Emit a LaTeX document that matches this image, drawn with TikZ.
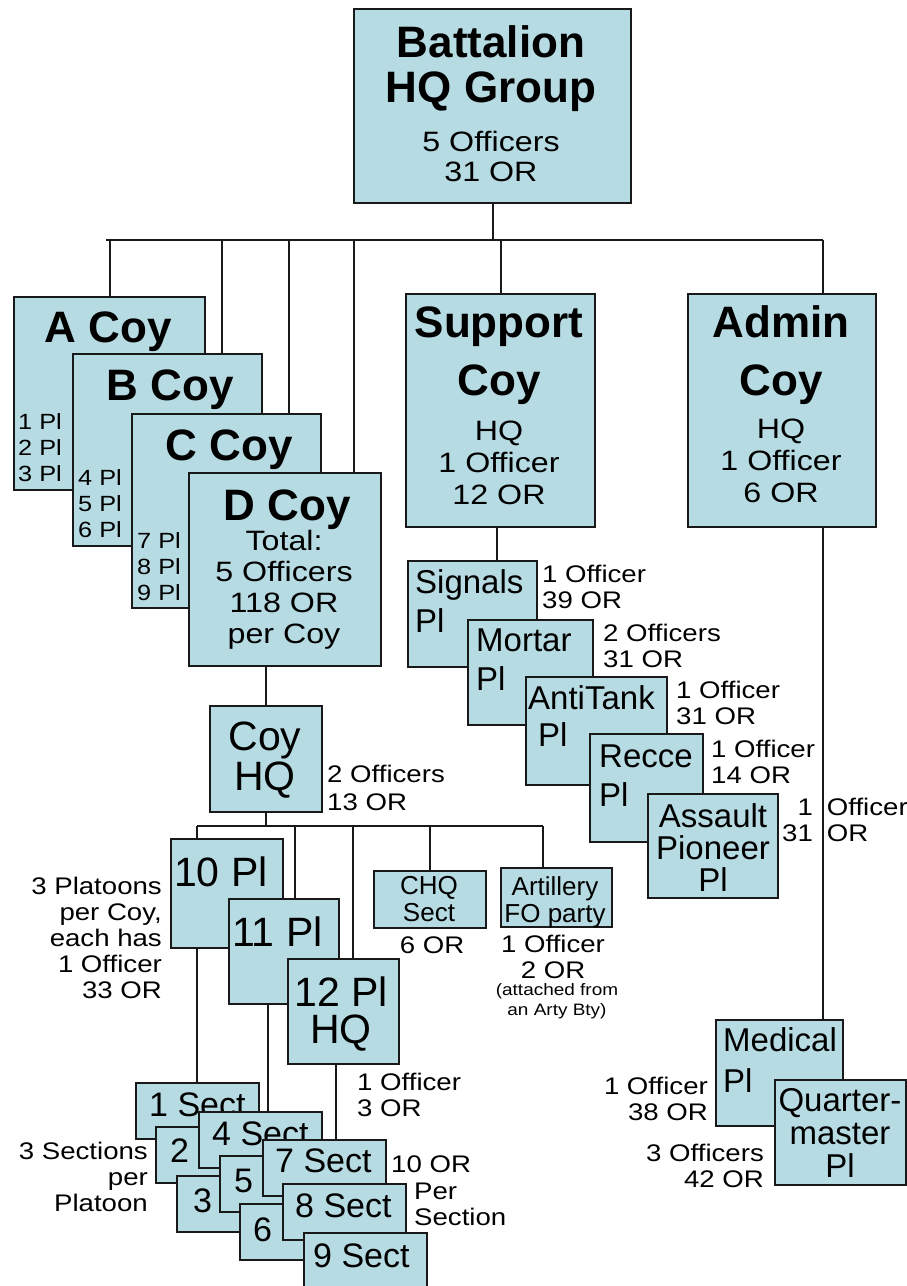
\documentclass[tikz,border=0pt]{standalone}
\usepackage{fontspec}
\setmainfont{Liberation Sans}
\newfontfamily\txfont[FakeStretch=1.15]{Liberation Sans}
\usetikzlibrary{calc,backgrounds}
\definecolor{coyblue}{RGB}{182,219,226}
\tikzset{
  unit/.style={draw=black!90, line width=2pt, fill=coyblue, inner sep=0pt, anchor=north west},
  link/.style={line width=2pt, draw=black!90},
  hd/.style={font=\bfseries\fontsize{44}{45}\selectfont, inner sep=0pt, align=center, anchor=north},
  md/.style={font=\fontsize{33}{39}\selectfont, inner sep=0pt, align=left, anchor=north west},
  big/.style={font=\fontsize{41}{40}\selectfont, inner sep=0pt},
  info/.style={font=\txfont\fontsize{28}{32}\selectfont, inner sep=0pt, align=center, anchor=north},
  lbl/.style={font=\txfont\fontsize{24}{26}\selectfont, inner sep=0pt, align=left, anchor=north west},
  pls/.style={font=\txfont\fontsize{22}{26}\selectfont, inner sep=0pt, align=left, anchor=north west},
  secttxt/.style={font=\fontsize{34}{36}\selectfont, inner sep=0pt, anchor=north west},
  sect/.style={unit, minimum width=123pt, minimum height=56pt}
}
\begin{document}
\begin{tikzpicture}[x=1pt, y=-1pt]
  \path[use as bounding box] (0,0) rectangle (907,1286);

  % Coordinates
  \coordinate (busL) at (106,240);
  \coordinate (busR) at (823,240);
  \coordinate (bDrop) at (222,240);
  \coordinate (cDrop) at (289,240);
  \coordinate (dDrop) at (354,240);
  \coordinate (sigDrop) at (497,540);
  \coordinate (hqBus) at (197,826);
  \coordinate (hqBusR) at (543,826);
  \coordinate (p11Drop) at (295,826);
  \coordinate (p12Drop) at (353,826);
  \coordinate (p11Down) at (268,1010);
  \coordinate (p12Down) at (336,1070);

  % Battalion HQ
  \node[unit, minimum width=277pt, minimum height=194pt] (bn) at (353,8) {};
  \node[hd] (bnName) at (491,25) {Battalion\\HQ Group};
  \node[info, font=\txfont\fontsize{28}{30}\selectfont] (bnStr) at (491,131) {5 Officers\\31 OR};

  % Rifle companies
  \node[unit, minimum width=191pt, minimum height=193pt] (acoy) at (13,296) {};
  \node[hd] (acoyName) at (108,312) {A Coy};
  \node[pls] (acoyPl) at (18,413) {1 Pl\\2 Pl\\3 Pl};
  \node[unit, minimum width=189pt, minimum height=192pt] (bcoy) at (72,353) {};
  \node[hd] (bcoyName) at (170,370) {B Coy};
  \node[pls] (bcoyPl) at (78,469) {4 Pl\\5 Pl\\6 Pl};
  \node[unit, minimum width=189pt, minimum height=194pt] (ccoy) at (131,413) {};
  \node[hd] (ccoyName) at (229,430) {C Coy};
  \node[pls] (ccoyPl) at (137,532) {7 Pl\\8 Pl\\9 Pl};
  \node[unit, minimum width=192pt, minimum height=193pt] (dcoy) at (188,472) {};
  \node[hd] (dcoyName) at (287,490) {D Coy};
  \node[info, font=\txfont\fontsize{28}{31}\selectfont] (dcoyStr) at (284,530) {Total:\\5 Officers\\118 OR\\per Coy};

  % Support and Admin companies
  \node[unit, minimum width=189pt, minimum height=233pt] (sup) at (405,293) {};
  \node[hd, font=\bfseries\fontsize{44}{58}\selectfont] (supName) at (499,307) {Support\\Coy};
  \node[info] (supStr) at (499,421) {HQ\\1 Officer\\12 OR};
  \node[unit, minimum width=188pt, minimum height=233pt] (adm) at (687,293) {};
  \node[hd, font=\bfseries\fontsize{44}{58}\selectfont] (admName) at (781,305) {Admin\\Coy};
  \node[info] (admStr) at (781,419) {HQ\\1 Officer\\6 OR};

  % Support platoons
  \node[unit, minimum width=129pt, minimum height=106pt] (sig) at (407,560) {};
  \node[md] (sigName) at (415,569) {Signals\\Pl};
  \node[lbl] (sigStr) at (542,565) {1 Officer\\39 OR};
  \node[unit, minimum width=125pt, minimum height=105pt] (mor) at (467,619) {};
  \node[md] (morName) at (476,629) {Mortar\\Pl};
  \node[lbl] (morStr) at (603,624) {2 Officers\\31 OR};
  \node[unit, minimum width=141pt, minimum height=108pt] (atk) at (525,676) {};
  \node[md, font=\fontsize{33}{37}\selectfont] (atkName) at (528,685) {AntiTank\\\hspace*{10pt}Pl};
  \node[lbl] (atkStr) at (676,681) {1 Officer\\31 OR};
  \node[unit, minimum width=113pt, minimum height=108pt] (rec) at (589,733) {};
  \node[md] (recName) at (599,745) {Recce\\Pl};
  \node[lbl] (recStr) at (711,740) {1 Officer\\14 OR};
  \node[unit, minimum width=130pt, minimum height=104pt] (apn) at (647,793) {};
  \node[md, align=center, anchor=north, font=\fontsize{33}{32}\selectfont] (apnName) at (713,803) {Assault\\Pioneer\\Pl};
  \node[font=\txfont\fontsize{24}{26}\selectfont, inner sep=0pt, anchor=north west] (apnStr) at (782,797)
    {\begin{tabular}{@{}r@{\hspace{14pt}}l@{}}1&Officer\\31&OR\end{tabular}};

  % Company HQ
  \node[unit, minimum width=112pt, minimum height=106pt] (hq) at (209,705) {};
  \node[big, align=center, anchor=north] (hqName) at (265,722) {Coy\\HQ};
  \node[lbl, font=\txfont\fontsize{24}{28}\selectfont] (hqStr) at (327,765) {2 Officers\\13 OR};

  % Platoons
  \node[unit, minimum width=112pt, minimum height=109pt] (pl10) at (170,838) {};
  \node[big, anchor=north west] (pl10Name) at (174,857) {10 Pl};
  \node[lbl, align=right, anchor=north east] (plStr) at (162,877) {3 Platoons\\per Coy,\\each has\\1 Officer\\33 OR};
  \node[unit, minimum width=110pt, minimum height=105pt] (pl11) at (228,898) {};
  \node[big, anchor=north west] (pl11Name) at (232,917) {11 Pl};
  \node[unit, minimum width=111pt, minimum height=105pt] (pl12) at (287,958) {};
  \node[big, align=center, anchor=north, font=\fontsize{41}{37}\selectfont] (pl12Name) at (341,977) {12 Pl\\HQ};
  \node[lbl] (pl12Str) at (357,1073) {1 Officer\\3 OR};

  % Coy HQ elements
  \node[unit, minimum width=112pt, minimum height=57pt] (chq) at (373,870) {};
  \node[info, font=\fontsize{26}{27}\selectfont] (chqName) at (429,876) {CHQ\\Sect};
  \node[lbl, align=center, anchor=north] (chqStr) at (432,937) {6 OR};
  \node[unit, minimum width=111pt, minimum height=59pt] (arty) at (500,867) {};
  \node[info, font=\fontsize{26}{27}\selectfont] (artyName) at (555,876) {Artillery\\FO party};
  \node[lbl, align=center, anchor=north] (artyStr) at (553,935) {1 Officer\\2 OR};
  \node[info, font=\txfont\fontsize{16.5}{20}\selectfont] (artyNote) at (557,983) {(attached from\\an Arty Bty)};

  % Sections
  \node[sect] (s1) at (135,1082) {};
  \node[secttxt] (s1t) at ($(s1.north west)+(14,11)$) {1 Sect};
  \node[sect] (s2) at (155,1126) {};
  \node[secttxt] (s2t) at ($(s2.north west)+(15,13)$) {2};
  \node[sect] (s3) at (176,1175) {};
  \node[secttxt] (s3t) at ($(s3.north west)+(17,14)$) {3};
  \node[sect] (s4) at (198,1111) {};
  \node[secttxt] (s4t) at ($(s4.north west)+(14,11)$) {4 Sect};
  \node[sect] (s5) at (219,1155) {};
  \node[secttxt] (s5t) at ($(s5.north west)+(15,14)$) {5};
  \node[sect] (s6) at (239,1203) {};
  \node[secttxt] (s6t) at ($(s6.north west)+(14,15)$) {6};
  \node[sect] (s7) at (262,1139) {};
  \node[secttxt] (s7t) at ($(s7.north west)+(13,10)$) {7 Sect};
  \node[sect] (s8) at (282,1183) {};
  \node[secttxt] (s8t) at ($(s8.north west)+(13,11)$) {8 Sect};
  \node[sect] (s9) at (303,1232) {};
  \node[secttxt] (s9t) at ($(s9.north west)+(10,12)$) {9 Sect};
  \node[lbl, align=right, anchor=north east] (sectStr) at (148,1142) {3 Sections\\per\\Platoon};
  \node[lbl] (sectOR) at (391,1156) {10 OR};
  \node[lbl] (sectPer) at (414,1183) {Per\\Section};

  % Admin platoons
  \node[unit, minimum width=127pt, minimum height=106pt] (med) at (715,1019) {};
  \node[md, font=\fontsize{33}{41}\selectfont] (medName) at (723,1027) {Medical\\Pl};
  \node[lbl, align=right, anchor=north east] (medStr) at (708,1077) {1 Officer\\38 OR};
  \node[unit, minimum width=131pt, minimum height=105pt] (qm) at (774,1079) {};
  \node[md, align=center, anchor=north, font=\fontsize{33}{33}\selectfont] (qmName) at (840,1088) {Quarter-\\master\\Pl};
  \node[lbl, align=right, anchor=north east] (qmStr) at (764,1144) {3 Officers\\42 OR};

  % Connectors
  \begin{scope}[on background layer]
    \fill[white] (0,0) rectangle (907,1286);
    \draw[link] (busL) -- (busR);
    \draw[link] (bn.south) -- (bn.south |- busL);
    \draw[link] (acoy.north) -- (acoy.north |- busL);
    \draw[link] (bDrop) -- (bDrop |- bcoy.north);
    \draw[link] (cDrop) -- (cDrop |- ccoy.north);
    \draw[link] (dDrop) -- (dDrop |- dcoy.north);
    \draw[link] (sup.north) -- (sup.north |- busL);
    \draw[link] (busR) -- (busR |- med.north);
    \draw[link] (sup.south -| sigDrop) -- (sigDrop |- sig.north);
    \draw[link] (hq.north) -- (hq.north |- dcoy.south);
    \draw[link] (hqBus) -- (hqBusR);
    \draw[link] (hq.south) -- (hq.south |- hqBus);
    \draw[link] (hqBus) -- (hqBus |- s1.north);
    \draw[link] (p11Drop) -- (p11Drop |- pl11.north);
    \draw[link] (p12Drop) -- (p12Drop |- pl12.north);
    \draw[link] (chq.north) -- (chq.north |- hqBus);
    \draw[link] (hqBusR) -- (hqBusR |- arty.north);
    \draw[link] (pl11.south -| p11Down) -- (p11Down |- s4.north);
    \draw[link] (pl12.south -| p12Down) -- (p12Down |- s7.north);
  \end{scope}
\end{tikzpicture}
\end{document}
